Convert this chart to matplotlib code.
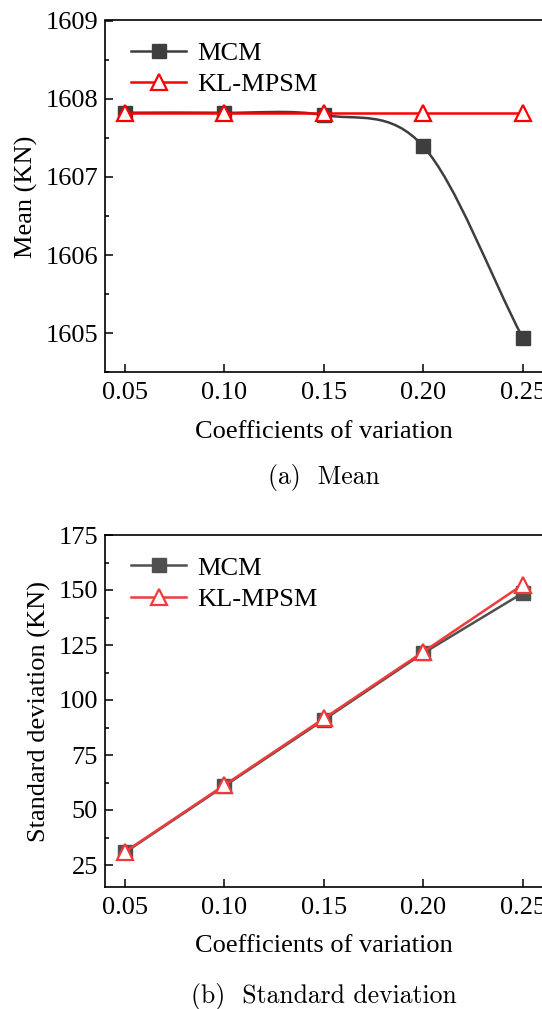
import matplotlib
matplotlib.use("Agg")
import matplotlib.pyplot as plt
import numpy as np
from matplotlib.lines import Line2D
from matplotlib.patches import PathPatch
from matplotlib.path import Path
from matplotlib.ticker import MultipleLocator

plt.rcParams["font.family"] = ["Liberation Serif", "DejaVu Serif"]

# coefficients of variation
cov = [0.05, 0.10, 0.15, 0.20, 0.25]

# (a) mean of the response [KN]
mean_mcm = [1607.82, 1607.82, 1607.79, 1607.39, 1604.94]
mean_kl = [1607.82, 1607.82, 1607.82, 1607.82, 1607.82]

# (b) standard deviation of the response [KN]
std_mcm = [30.7, 60.9, 91.0, 121.3, 148.6]
std_kl = [31.0, 61.3, 91.6, 121.9, 152.4]

DARK = "#3e3e3e"
RED_A = "#ff0000"
GRAY_B = "#505050"
RED_B = "#f03a3c"

FS = 19


def spline_path(x, y):
    """Smooth curve through the points as cubic Bezier segments
    (Catmull-Rom style tangents), like Origin's spline connection."""
    x = np.asarray(x, float)
    y = np.asarray(y, float)
    slopes = np.gradient(y, x)
    verts = [(x[0], y[0])]
    codes = [Path.MOVETO]
    for i in range(len(x) - 1):
        h = x[i + 1] - x[i]
        verts += [
            (x[i] + h / 3, y[i] + slopes[i] * h / 3),
            (x[i + 1] - h / 3, y[i + 1] - slopes[i + 1] * h / 3),
            (x[i + 1], y[i + 1]),
        ]
        codes += [Path.CURVE4] * 3
    return Path(verts, codes)


def style_axes(ax, ylabel, caption, caption_y):
    ax.set_xlim(0.04, 0.26)
    ax.set_xticks(cov)
    ax.set_xticklabels([f"{c:.2f}" for c in cov])
    ax.tick_params(axis="both", which="major", direction="in", length=6, width=1.1,
                   labelsize=FS, top=False, right=False)
    ax.tick_params(axis="y", which="minor", direction="in", length=3, width=1.1, right=False)
    ax.tick_params(axis="x", pad=7)
    ax.tick_params(axis="y", pad=5)
    for sp in ax.spines.values():
        sp.set_linewidth(1.2)
    ax.set_xlabel("Coefficients of variation", fontsize=FS, labelpad=12)
    ax.set_ylabel(ylabel, fontsize=FS, labelpad=5)
    ax.text(0.5, caption_y, caption, transform=ax.transAxes, ha="center", va="center",
            fontsize=18.5, family="cmr10")


def add_legend(ax, color_mcm, color_kl):
    handles = [
        Line2D([], [], color=color_mcm, linewidth=1.8, marker="s", markersize=10),
        Line2D([], [], color=color_kl, linewidth=1.8, marker="^", markersize=12,
               markerfacecolor="white", markeredgewidth=1.6),
    ]
    ax.legend(handles, ["MCM", "KL-MPSM"], loc="upper left", frameon=False,
              fontsize=FS, handlelength=2.1, handletextpad=0.4, borderaxespad=0.0,
              labelspacing=0.3, bbox_to_anchor=(0.035, 0.97))


fig = plt.figure(figsize=(5.42, 10.09), dpi=100)
W, H = 542.0, 1009.0
left, right = 105 / W, 542.6 / W
ax_mean = fig.add_axes([left, 1 - 372.3 / H, right - left, (372.3 - 20.5) / H])
ax_std = fig.add_axes([left, 1 - 887 / H, right - left, (887 - 535) / H])

# (a) mean
ax_mean.add_patch(PathPatch(spline_path(cov, mean_mcm), fill=False, edgecolor=DARK,
                            linewidth=1.8, zorder=2))
ax_mean.plot(cov, mean_mcm, linestyle="none", marker="s", markersize=10,
             color=DARK, zorder=3)
ax_mean.plot(cov, mean_kl, color=RED_A, linewidth=1.8, marker="^", markersize=12,
             markerfacecolor="white", markeredgecolor=RED_A, markeredgewidth=1.6, zorder=4)
ax_mean.set_ylim(1604.5, 1609)
ax_mean.yaxis.set_major_locator(MultipleLocator(1))
ax_mean.yaxis.set_minor_locator(MultipleLocator(0.5))
ax_mean.yaxis.set_major_formatter(plt.FuncFormatter(lambda v, p: f"{v:.0f}"))
add_legend(ax_mean, DARK, RED_A)
style_axes(ax_mean, "Mean (KN)", "(a)  Mean", -0.298)

# (b) standard deviation
ax_std.plot(cov, std_mcm, color=GRAY_B, linewidth=1.8, marker="s", markersize=10, zorder=3)
ax_std.plot(cov, std_kl, color=RED_B, linewidth=1.8, marker="^", markersize=12,
            markerfacecolor="white", markeredgecolor=RED_B, markeredgewidth=1.6, zorder=4)
ax_std.set_ylim(15, 175)
ax_std.yaxis.set_major_locator(MultipleLocator(25))
ax_std.yaxis.set_minor_locator(MultipleLocator(12.5))
add_legend(ax_std, GRAY_B, RED_B)
style_axes(ax_std, "Standard deviation (KN)", "(b)  Standard deviation", -0.312)

fig.savefig("out.png", dpi=100)
